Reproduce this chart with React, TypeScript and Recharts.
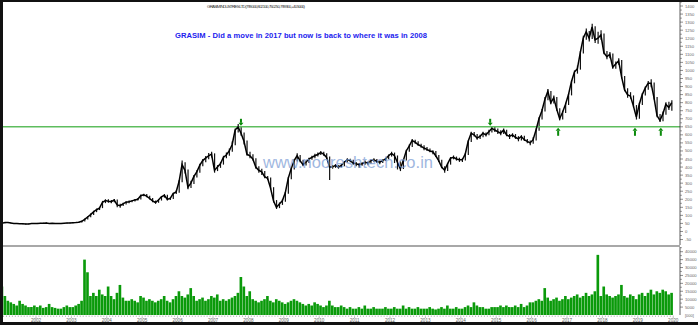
import { ComposedChart, Line, Bar, XAxis, YAxis, ReferenceLine, ReferenceDot } from "recharts";

// monthly bars, Jan..Dec
const years = [2001, 2002, 2003, 2004, 2005, 2006, 2007, 2008, 2009, 2010, 2011, 2012, 2013, 2014, 2015, 2016, 2017, 2018, 2019];

const closes = [
  [52, 55, 56, 52, 50, 49, 48, 48, 46, 47, 49, 50],
  [50, 51, 51, 52, 50, 51, 50, 49, 49, 51, 52, 53],
  [54, 55, 57, 63, 75, 90, 105, 122, 135, 145, 180, 192],
  [188, 185, 195, 165, 160, 172, 182, 185, 190, 196, 200, 222],
  [228, 220, 205, 190, 180, 195, 215, 225, 200, 205, 235, 245],
  [310, 415, 380, 275, 300, 340, 370, 410, 440, 455, 470, 480],
  [380, 400, 420, 460, 475, 500, 540, 630, 650, 610, 560, 480],
  [470, 450, 400, 380, 370, 340, 330, 270, 190, 150, 170, 190],
  [240, 330, 390, 440, 470, 440, 415, 430, 450, 460, 470, 478],
  [490, 480, 460, 400, 400, 410, 400, 410, 430, 445, 440, 425],
  [420, 415, 420, 430, 425, 440, 445, 435, 430, 440, 450, 470],
  [485, 470, 430, 390, 440, 500, 530, 565, 555, 540, 530, 518],
  [510, 500, 495, 470, 440, 400, 380, 420, 455, 460, 450, 445],
  [445, 480, 560, 610, 600, 580, 590, 610, 600, 620, 640, 630],
  [620, 610, 630, 600, 590, 600, 585, 575, 590, 570, 560, 550],
  [570, 630, 700, 750, 820, 870, 800, 830, 760, 700, 740, 790],
  [850, 930, 990, 1010, 1110, 1200, 1240, 1200, 1270, 1190, 1200, 1220],
  [1110, 1085, 1100, 1020, 1040, 1060, 960, 880, 850, 840, 780, 710],
  [790, 850, 890, 920, 920, 830, 720, 690, 730, 790, 770, 800],
];

const highs = [
  [55, 58, 58, 56, 53, 52, 51, 50, 49, 49, 51, 53],
  [53, 53, 54, 55, 53, 53, 52, 51, 51, 53, 54, 56],
  [56, 57, 60, 66, 80, 95, 112, 128, 142, 152, 190, 200],
  [200, 195, 202, 198, 172, 178, 188, 192, 196, 202, 208, 230],
  [235, 232, 222, 208, 192, 200, 220, 232, 228, 212, 240, 255],
  [320, 440, 430, 385, 315, 350, 380, 420, 450, 468, 488, 495],
  [485, 412, 430, 470, 490, 515, 560, 640, 668, 655, 615, 565],
  [495, 480, 455, 405, 390, 375, 345, 335, 275, 195, 180, 200],
  [245, 340, 400, 450, 485, 475, 445, 440, 458, 470, 482, 490],
  [500, 495, 485, 465, 412, 418, 412, 420, 438, 455, 452, 445],
  [432, 425, 430, 440, 435, 448, 455, 450, 440, 448, 458, 478],
  [495, 490, 472, 435, 448, 508, 540, 575, 570, 560, 545, 535],
  [525, 515, 505, 500, 475, 445, 405, 425, 462, 472, 465, 458],
  [455, 488, 565, 620, 618, 605, 600, 620, 615, 632, 655, 648],
  [640, 628, 640, 632, 605, 610, 605, 592, 598, 595, 575, 565],
  [585, 640, 710, 760, 835, 885, 872, 845, 835, 765, 750, 800],
  [860, 940, 1000, 1030, 1120, 1215, 1260, 1245, 1290, 1275, 1240, 1250],
  [1230, 1120, 1115, 1105, 1055, 1075, 1065, 965, 890, 865, 845, 785],
  [800, 860, 900, 935, 945, 925, 835, 730, 745, 802, 805, 815],
];

const lows = [
  [50, 51, 53, 50, 48, 47, 46, 45, 43, 45, 46, 48],
  [48, 49, 49, 50, 48, 49, 48, 47, 47, 48, 50, 51],
  [51, 52, 54, 56, 62, 74, 88, 102, 120, 133, 145, 176],
  [178, 176, 182, 150, 148, 158, 168, 176, 182, 186, 192, 198],
  [218, 212, 198, 182, 172, 178, 192, 210, 192, 195, 202, 232],
  [240, 305, 360, 262, 270, 295, 335, 365, 405, 430, 448, 460],
  [365, 375, 395, 415, 455, 470, 495, 535, 615, 595, 540, 470],
  [455, 440, 390, 365, 350, 330, 320, 262, 180, 140, 145, 165],
  [185, 235, 325, 385, 435, 430, 405, 410, 425, 445, 455, 465],
  [475, 470, 450, 320, 390, 395, 390, 398, 405, 428, 430, 415],
  [405, 395, 408, 415, 412, 420, 432, 425, 418, 425, 438, 448],
  [465, 425, 385, 375, 388, 440, 495, 525, 545, 532, 520, 505],
  [500, 492, 480, 462, 432, 392, 365, 375, 415, 448, 440, 432],
  [432, 440, 475, 555, 590, 570, 575, 585, 590, 598, 615, 618],
  [605, 598, 605, 592, 575, 585, 575, 560, 565, 562, 548, 535],
  [545, 565, 625, 695, 745, 815, 790, 795, 750, 690, 695, 735],
  [785, 845, 920, 980, 1005, 1105, 1190, 1180, 1195, 1170, 1165, 1190],
  [1100, 1070, 1075, 1010, 1010, 1035, 950, 870, 830, 825, 770, 695],
  [700, 785, 845, 880, 895, 820, 710, 680, 685, 725, 755, 750],
];

const volumes = [
  [18000, 12000, 9000, 8000, 7000, 6000, 9000, 7000, 6000, 5000, 5000, 6000],
  [5000, 6000, 4500, 5000, 7000, 5000, 4500, 4000, 4000, 5000, 6000, 5000],
  [5000, 6000, 7000, 9000, 35000, 27000, 12000, 14000, 12000, 16000, 13000, 12000],
  [18000, 12000, 10000, 14000, 19000, 11000, 9000, 9000, 10000, 9000, 8000, 12000],
  [11000, 9000, 10000, 9000, 8000, 9000, 10000, 12000, 9000, 8000, 10000, 12000],
  [15000, 12000, 11000, 13000, 17000, 12000, 9000, 10000, 11000, 9000, 10000, 12000],
  [11000, 13000, 9000, 10000, 9000, 10000, 11000, 12000, 14000, 24000, 18000, 12000],
  [15000, 10000, 9000, 8000, 9000, 10000, 12000, 9000, 8000, 10000, 9000, 8000],
  [7000, 8000, 9000, 10000, 9000, 8000, 7000, 6000, 7000, 6000, 8000, 7000],
  [6000, 5000, 6000, 9000, 6000, 5000, 5000, 6000, 5000, 4000, 5000, 4000],
  [4000, 5000, 4000, 6000, 4000, 4000, 5000, 4000, 4000, 4000, 5000, 4000],
  [4000, 5000, 4000, 4000, 6000, 4000, 5000, 4000, 4000, 5000, 4000, 4000],
  [4000, 5000, 4000, 3500, 4000, 5000, 4000, 6000, 4000, 4000, 5000, 4000],
  [4000, 5000, 6000, 5000, 8000, 6000, 5000, 5000, 4000, 4000, 5000, 5000],
  [5000, 6000, 5000, 6000, 5000, 5000, 6000, 5000, 7000, 5000, 6000, 8000],
  [8000, 9000, 10000, 9000, 17000, 11000, 9000, 10000, 11000, 9000, 10000, 12000],
  [10000, 11000, 12000, 13000, 11000, 12000, 14000, 12000, 13000, 15000, 38000, 12000],
  [18000, 13000, 12000, 11000, 12000, 13000, 19000, 12000, 11000, 13000, 12000, 10000],
  [13000, 14000, 12000, 14000, 16000, 13000, 15000, 14000, 16000, 15000, 13000, 14000],
];

const yearTicks = [2001, 2002, 2003, 2004, 2005, 2006, 2007, 2008, 2009, 2010, 2011, 2012, 2013, 2014, 2015, 2016, 2017, 2018, 2019, 2020];
const priceTicks = [-50, 0, 50, 100, 150, 200, 250, 300, 350, 400, 450, 500, 550, 600, 650, 700, 750, 800, 850, 900, 950, 1000, 1050, 1100, 1150, 1200, 1250, 1300, 1350, 1400];
const volumeTicks = [5000, 10000, 15000, 20000, 25000, 30000, 35000, 40000];

const supportLevel = 650;
// green arrows drawn at the 650 line
const arrows = [
  { t: 2007.79, dir: "down" },
  { t: 2014.83, dir: "down" },
  { t: 2016.75, dir: "up" },
  { t: 2018.92, dir: "up" },
  { t: 2019.65, dir: "up" },
];

const titleText = "GRASIM INDUSTRIES LTD (799.000, 802.100, 750.250, 799.900, +40.5000)";
const noteText = "GRASIM  - Did a move in 2017 but now is back to where it was in 2008";
const watermark = "www.nooreshtech.co.in";

const data = years.flatMap((yr, yi) =>
  closes[yi].map((c, m) => ({
    t: yr + (m + 0.5) / 12,
    close: c,
    range: [lows[yi][m], highs[yi][m]],
    vol: volumes[yi][m],
  }))
);
const monthStarts = [...data.map((d) => d.t - 1 / 24), yearTicks[yearTicks.length - 1]];

const W = 698;
const AXIS_X = 680;
const X_DOMAIN: [number, number] = [2001.068, 2020.192];
const FONT = "'Liberation Sans', Arial, sans-serif";

const ValueTick = ({ y, payload }: any) => (
  <g>
    <line x1={AXIS_X} x2={AXIS_X + 3} y1={y} y2={y} stroke="#444" strokeWidth={0.6} />
    <line x1={AXIS_X} x2={AXIS_X + 2} y1={y - 4} y2={y - 4} stroke="#444" strokeWidth={0.5} />
    <text x={AXIS_X + 5} y={y + 1.5} fontSize={4.2} fill="#666" fontFamily={FONT}>
      {payload.value}
    </text>
  </g>
);

const MonthTick = ({ x, payload }: any) => {
  const v = payload.value;
  const isYear = Math.abs(v - Math.round(v)) < 0.001;
  // the first year sits under the frame, only its tick shows
  const showLabel = isYear && x > 8;
  return (
    <g>
      <line x1={x} x2={x} y1={69.5} y2={isYear ? 72 : 71} stroke="#777" strokeWidth={0.5} />
      {showLabel && (
        <text x={x} y={75.5} fontSize={4.6} textAnchor="middle" fill="#666" fontFamily={FONT}>
          {Math.round(v)}
        </text>
      )}
    </g>
  );
};

const Arrow = ({ cx, cy, dir }: any) => {
  const c = "#0b8a0b";
  if (dir === "up") {
    return (
      <g>
        <polygon points={`${cx - 2.5},${cy + 4} ${cx + 2.5},${cy + 4} ${cx},${cy + 1}`} fill={c} />
        <rect x={cx - 1} y={cy + 4} width={2} height={5} fill={c} />
      </g>
    );
  }
  return (
    <g>
      <polygon points={`${cx - 2.5},${cy - 4} ${cx + 2.5},${cy - 4} ${cx},${cy - 1}`} fill={c} />
      <rect x={cx - 1} y={cy - 8} width={2} height={4} fill={c} />
    </g>
  );
};

export default function App() {
  return (
    <div
      style={{
        position: "absolute",
        left: 0,
        top: 0,
        width: W,
        height: 325,
        background: "#fff",
        overflow: "hidden",
        fontFamily: FONT,
      }}
    >
      {/* price panel */}
      <div style={{ position: "absolute", left: 0, top: 0 }}>
        <ComposedChart width={W} height={246} data={data} margin={{ top: 2, right: 0, bottom: 1, left: 3 }}>
          <XAxis dataKey="t" type="number" domain={X_DOMAIN} allowDataOverflow hide />
          <YAxis
            orientation="right"
            width={18}
            domain={[-84, 1425]}
            allowDataOverflow
            ticks={priceTicks}
            interval={0}
            tickLine={false}
            axisLine={{ stroke: "#333", strokeWidth: 0.8 }}
            tick={(p: any) => <ValueTick {...p} />}
          />
          <ReferenceLine y={supportLevel} stroke="#5ebd5e" strokeWidth={1.6} />
          <Bar dataKey="range" fill="#111" barSize={1.2} isAnimationActive={false} />
          <Line
            dataKey="close"
            stroke="#000"
            strokeWidth={1.5}
            dot={false}
            type="linear"
            isAnimationActive={false}
          />
          {arrows.map((a, i) => (
            <ReferenceDot
              key={i}
              x={a.t}
              y={supportLevel}
              r={0}
              shape={(p: any) => <Arrow {...p} dir={a.dir} />}
            />
          ))}
        </ComposedChart>
      </div>

      {/* volume panel */}
      <div style={{ position: "absolute", left: 0, top: 246 }}>
        <ComposedChart width={W} height={77} data={data} margin={{ top: 1, right: 0, bottom: 0, left: 3 }}>
          <XAxis
            dataKey="t"
            type="number"
            domain={X_DOMAIN}
            allowDataOverflow
            ticks={monthStarts}
            interval={0}
            height={8}
            tickLine={false}
            axisLine={false}
            tick={(p: any) => <MonthTick {...p} />}
          />
          <YAxis
            orientation="right"
            width={18}
            domain={[0, 42970]}
            allowDataOverflow
            ticks={volumeTicks}
            interval={0}
            tickLine={false}
            axisLine={{ stroke: "#333", strokeWidth: 0.8 }}
            tick={(p: any) => <ValueTick {...p} />}
          />
          <Bar dataKey="vol" fill="#0a9a0a" barSize={3.3} isAnimationActive={false} />
        </ComposedChart>
      </div>

      {/* panel separator */}
      <div style={{ position: "absolute", left: 3, top: 245, width: AXIS_X - 3, height: 1.5, background: "#a8a8a8" }} />

      {/* dark frame */}
      <div style={{ position: "absolute", left: 0, top: 0, width: W, height: 2, background: "#111" }} />
      <div style={{ position: "absolute", left: 0, top: 0, width: 3, height: 325, background: "#111" }} />
      <div style={{ position: "absolute", left: 0, top: 322, width: W, height: 3, background: "#111" }} />

      {/* texts */}
      <svg width={W} height={325} style={{ position: "absolute", left: 0, top: 0, pointerEvents: "none" }}>
        <text x={256} y={7.8} fontSize={4.4} textAnchor="middle" textLength={98} fill="#333" fontFamily={FONT}>
          {titleText}
        </text>
        <text x={175} y={37.8} fontSize={7.6} fontWeight="bold" textLength={252} fill="#2222ee" fontFamily={FONT}>
          {noteText}
        </text>
        <text x={263} y={167.5} fontSize={16.5} textLength={170} fill="#7f9fd6" opacity={0.75} fontFamily={FONT}>
          {watermark}
        </text>
        <text x={AXIS_X + 5} y={316.5} fontSize={4} fill="#666" fontFamily={FONT}>
          [000]
        </text>
      </svg>
    </div>
  );
}
